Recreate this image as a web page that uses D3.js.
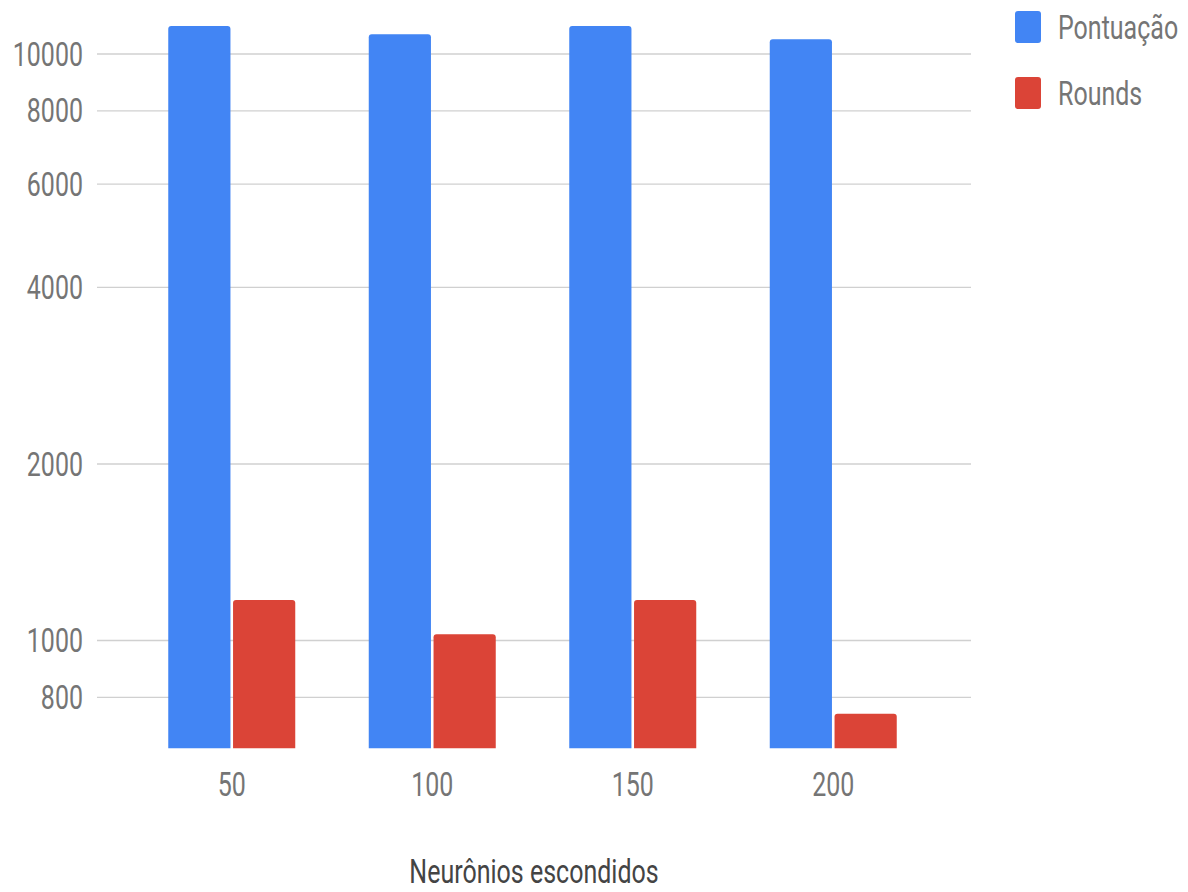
<!DOCTYPE html>
<html>
<head>
<meta charset="utf-8">
<script src="https://cdn.jsdelivr.net/npm/d3@7"></script>
<style>
  html, body { margin: 0; padding: 0; background: #fff; }
  svg { display: block; font-family: Roboto, "Noto Sans", sans-serif; }
</style>
</head>
<body>
<svg id="chart" width="1188" height="892"></svg>
<script>
// Hidden-neuron counts on the x axis
const categories = ["50", "100", "150", "200"];
// Series names
const seriesNames = ["Pontuação", "Rounds"];
// Values per series (one per category)
const pontuacao = [11160, 10805, 11160, 10595];
const rounds = [1173, 1025, 1173, 750];
// Y tick values
const yTicks = [800, 1000, 2000, 4000, 6000, 8000, 10000];
const xTitle = "Neurônios escondidos";

const colors = ["#4285f4", "#db4437"];
const seriesValues = [pontuacao, rounds];
const stretch = 1.32;

const svg = d3.select("#chart");

const y = d3.scaleLog().domain([655, 10000]).range([748.3, 54]);
const x = d3.scalePoint().domain(categories).range([131.5, 933.5]).padding(0.5);
const xs = d3.scaleBand().domain(seriesNames).range([-63.5, 63.5]).paddingInner(0.04);

// Gridlines
svg.append("g").selectAll("line").data(yTicks).join("line")
  .attr("x1", 97).attr("x2", 971)
  .attr("y1", d => y(d)).attr("y2", d => y(d))
  .attr("stroke", "#d0d0d0").attr("stroke-width", 1.4);

// Y tick labels
svg.append("g").selectAll("text").data(yTicks).join("text")
  .attr("transform", d => `translate(83,${y(d)}) scale(1,${stretch})`)
  .attr("text-anchor", "end").attr("dy", "0.35em")
  .attr("font-size", 25).attr("fill", "#757575")
  .text(d => d);

// Bars with slightly rounded top corners
function barPath(x0, w, yTop, yBase, r) {
  return `M${x0},${yBase}V${yTop + r}Q${x0},${yTop} ${x0 + r},${yTop}` +
         `H${x0 + w - r}Q${x0 + w},${yTop} ${x0 + w},${yTop + r}V${yBase}Z`;
}
const barData = [];
categories.forEach((c, i) => {
  seriesNames.forEach((s, j) => {
    barData.push({ cat: c, series: s, value: seriesValues[j][i], color: colors[j] });
  });
});
const base = y.range()[0];
svg.append("g").selectAll("path").data(barData).join("path")
  .attr("d", d => barPath(x(d.cat) + xs(d.series), xs.bandwidth(), y(d.value), base, 3))
  .attr("fill", d => d.color);

// X tick labels
svg.append("g").selectAll("text").data(categories).join("text")
  .attr("transform", d => `translate(${x(d)},784) scale(1,${stretch})`)
  .attr("text-anchor", "middle").attr("dy", "0.35em")
  .attr("font-size", 25).attr("fill", "#757575")
  .text(d => d);

// X axis title
svg.append("text")
  .attr("transform", `translate(534,871) scale(1,${stretch})`)
  .attr("text-anchor", "middle").attr("dy", "0.35em")
  .attr("font-size", 25).attr("fill", "#444")
  .text(xTitle);

// Legend
const legendY = [27, 93];
const legend = svg.append("g").selectAll("g").data(seriesNames).join("g")
  .attr("transform", (d, i) => `translate(1015,${legendY[i]})`);
legend.append("rect")
  .attr("x", 0).attr("y", -16).attr("width", 26).attr("height", 32)
  .attr("rx", 3).attr("ry", 3)
  .attr("fill", (d, i) => colors[i]);
legend.append("text")
  .attr("transform", `translate(43,0) scale(1,${stretch})`)
  .attr("dy", "0.35em").attr("font-size", 25).attr("fill", "#757575")
  .text(d => d);
</script>
</body>
</html>
